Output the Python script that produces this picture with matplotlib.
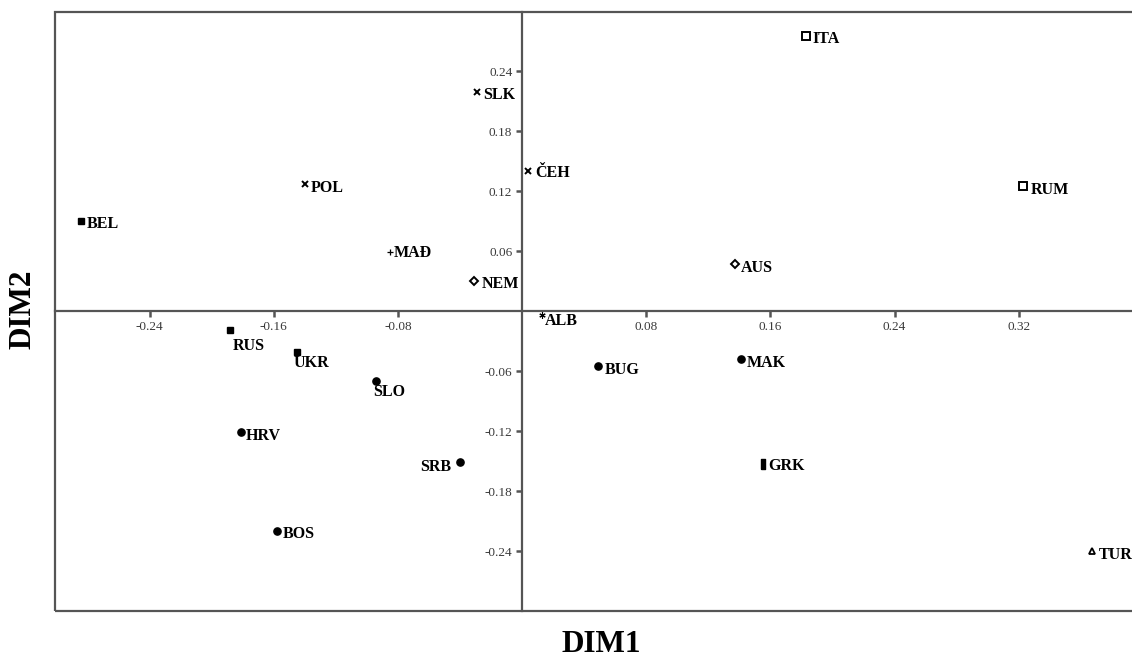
import matplotlib
matplotlib.use("Agg")
import matplotlib.pyplot as plt
from matplotlib.patches import Rectangle

plt.rcParams['font.family'] = ['Liberation Serif', 'DejaVu Serif']

# country codes and their coordinates on the two dimensions
countries = ['BEL', 'POL', 'MAĐ', 'SLK', 'ČEH', 'NEM', 'AUS', 'ITA', 'RUM', 'ALB',
             'RUS', 'UKR', 'SLO', 'HRV', 'BOS', 'SRB', 'BUG', 'MAK', 'GRK', 'TUR']
dim1 = [-0.284, -0.140, -0.085, -0.029, 0.004, -0.031, 0.137, 0.183, 0.323, 0.013,
        -0.188, -0.145, -0.094, -0.181, -0.158, -0.040, 0.049, 0.141, 0.155, 0.367]
dim2 = [0.090, 0.127, 0.059, 0.219, 0.140, 0.030, 0.047, 0.275, 0.125, -0.004,
        -0.019, -0.041, -0.070, -0.121, -0.220, -0.151, -0.055, -0.048, -0.153, -0.240]
groups = ['fsq', 'x', 'plus', 'x', 'x', 'dia', 'dia', 'osq', 'osq', 'ast',
          'fsq', 'fsq', 'dot', 'dot', 'dot', 'dot', 'dot', 'dot', 'bar', 'tri']

xticks = [-0.24, -0.16, -0.08, 0.08, 0.16, 0.24, 0.32]
yticks = [-0.24, -0.18, -0.12, -0.06, 0.06, 0.12, 0.18, 0.24]

marker_styles = {
    'fsq': dict(marker='s', ms=5, mfc='black', mec='black'),
    'osq': dict(marker='s', ms=5.3, mfc='white', mec='black', mew=1.4),
    'x': dict(marker='x', ms=4.2, mec='black', mew=1.4),
    'plus': dict(marker='+', ms=5, mec='black', mew=0.9),
    'dia': dict(marker='D', ms=4.2, mfc='white', mec='black', mew=1.4),
    'dot': dict(marker='o', ms=5.2, mfc='black', mec='black'),
    'tri': dict(marker='^', ms=5, mfc='white', mec='black', mew=1.3),
    'ast': dict(marker=(6, 2, 0), ms=4.5, mec='black', mew=0.8),
    'bar': dict(marker=[(-0.45, -1), (0.45, -1), (0.45, 1), (-0.45, 1), (-0.45, -1)],
                ms=7, mfc='black', mec='black'),
}

# label offsets in pixels (dx, dy, ha)
label_offsets = {
    'RUS': (2, -16, 'left'), 'UKR': (-3, -11, 'left'), 'SLO': (-3, -11, 'left'),
    'SRB': (-9, -5, 'right'), 'NEM': (8, -3, 'left'), 'ČEH': (7, -2, 'left'),
    'SLK': (6, -3, 'left'), 'POL': (6, -4, 'left'), 'BEL': (5, -3, 'left'),
    'MAĐ': (4, -1, 'left'), 'ALB': (3, -6, 'left'), 'BUG': (7, -4, 'left'),
    'MAK': (6, -4, 'left'), 'GRK': (6, -2, 'left'), 'AUS': (6, -4, 'left'),
    'ITA': (6, -3, 'left'), 'RUM': (7, -4, 'left'), 'TUR': (7, -4, 'left'),
    'HRV': (5, -4, 'left'), 'BOS': (6, -3, 'left'),
}

W, H = 1132, 658
fig = plt.figure(figsize=(W / 100, H / 100), dpi=100)
ax = fig.add_axes([55 / W, (H - 611) / H, (1134 - 55) / W, (611 - 12) / H])

ax.set_xlim(-0.3009, 0.3943)
ax.set_ylim(-0.300, 0.299)

line_col = '#555555'
for side in ['top', 'right']:
    ax.spines[side].set_visible(False)
ax.spines['left'].set_position(('data', 0))
ax.spines['bottom'].set_position(('data', 0))
for side in ['left', 'bottom']:
    ax.spines[side].set_color(line_col)
    ax.spines[side].set_linewidth(1.6)

# outer box around the plot
ax.add_patch(Rectangle((0, 0), 1, 1, transform=ax.transAxes, fill=False,
                       edgecolor=line_col, linewidth=1.6, clip_on=False, zorder=3))

ax.set_xticks(xticks)
ax.set_xticklabels([f'{v:.2f}' for v in xticks])
ax.set_yticks(yticks)
ax.set_yticklabels([f'{v:.2f}' for v in yticks])
ax.tick_params(axis='both', direction='out', length=4, width=1.8, color=line_col,
               labelsize=9.5, labelcolor='#3a3a3a', pad=3)

for name, x, y, g in zip(countries, dim1, dim2, groups):
    ax.plot([x], [y], linestyle='none', zorder=4, clip_on=False, **marker_styles[g])
    dx, dy, ha = label_offsets[name]
    ax.annotate(name, (x, y), xytext=(dx, dy), textcoords='offset pixels',
                ha=ha, va='center', fontsize=11.5, fontweight='bold', color='black')

fig.text(601 / W, 1 - 644 / H, 'DIM1', ha='center', va='center',
         fontsize=22.5, fontweight='bold')
fig.text(23 / W, 1 - 309 / H, 'DIM2', ha='center', va='center', rotation=90,
         fontsize=22.5, fontweight='bold')

fig.savefig('out.png', dpi=100, facecolor='white')
